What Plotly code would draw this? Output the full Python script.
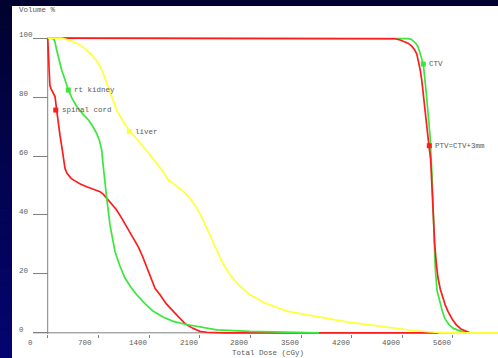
import plotly.graph_objects as go

# Dose-volume histogram: cumulative volume (%) vs total dose (cGy)
sc_dose = [0, 8, 18, 30, 45, 60, 80, 101, 124, 145, 170, 202, 239, 265, 290, 320, 354, 400, 450,
           539, 630, 723, 770, 815, 860, 906, 953, 1020, 1092, 1170, 1252, 1310, 1368, 1430,
           1483, 1552, 1640, 1736, 1820, 1897, 2000, 2104, 2200, 2312, 2450, 5400]
sc_vol = [100, 95, 89, 84, 82.9, 82.3, 81.3, 80.2, 75.6, 71.2, 67, 62, 55.8, 54.2, 53.3, 52.5,
          51.9, 51.1, 50.5, 49.6, 48.8, 47.9, 47.0, 45.7, 44.4, 43, 41.7, 39, 35.9, 32.8, 29.2,
          26, 22.4, 18.5, 15.1, 12.9, 9.8, 7.3, 5, 3.1, 1.6, 0.5, 0.2, 0.07, 0, 0]

rk_dose = [0, 60, 85, 101, 124, 160, 193, 240, 285, 340, 401, 480, 561, 620, 677, 715, 746,
           768, 792, 815, 860, 930, 1000, 1068, 1150, 1230, 1340, 1459, 1600, 1736, 1900, 2059,
           2335, 2795, 3200, 3486, 3750]
rk_vol = [100, 100, 99.6, 98.6, 96, 92.5, 89.2, 85.8, 82.4, 79.4, 76.8, 74.4, 72.3, 70.2, 67.7,
          65.2, 62.1, 56.4, 51.9, 45.8, 36.7, 27.6, 22.5, 18.6, 15.5, 12.9, 10, 7.3, 5.3, 3.9,
          2.9, 2.2, 1.0, 0.5, 0.3, 0.2, 0]

lv_dose = [0, 193, 300, 401, 500, 584, 660, 723, 770, 815, 884, 953, 1040, 1137, 1230, 1321,
           1410, 1506, 1590, 1666, 1770, 1874, 1970, 2059, 2130, 2197, 2265, 2335, 2420, 2519,
           2650, 2795, 2999, 3320, 3689, 4150, 4610, 5071, 5348, 5600, 6500]
lv_vol = [100, 100, 99.3, 98.3, 96.8, 94.9, 92.8, 90.4, 87.8, 84.7, 80.2, 75.6, 71.8, 68.3,
          65.8, 63.2, 60.5, 57.5, 54.8, 51.9, 50, 48, 45.5, 42.4, 39.2, 35.6, 31.5, 27.6, 23.5,
          19.7, 15.9, 12.9, 10.1, 7.3, 5.6, 3.6, 2.2, 0.7, 0.2, 0, 0]

ptv_dose = [0, 4702, 4800, 4868, 4930, 4979, 5030, 5071, 5100, 5121, 5145, 5168, 5190, 5214,
            5259, 5292, 5324, 5348, 5370, 5393, 5425, 5462, 5495, 5531, 5590, 5646, 5710, 5784,
            5835]
ptv_vol = [100, 100, 99.8, 99.4, 98.9, 98.3, 97.3, 96, 94.6, 92.6, 89.5, 85.9, 80.5, 74.5,
           65.5, 58.7, 41.2, 29.9, 23.5, 18.6, 14.8, 11.8, 9.3, 7.3, 4.6, 2.7, 1.3, 0.5, 0]

ctv_dose = [0, 4744, 4900, 4980, 5024, 5052, 5085, 5117, 5142, 5165, 5190, 5234, 5283, 5310,
            5330, 5355, 5379, 5400, 5421, 5450, 5486, 5540, 5605, 5660, 5715, 5780]
ctv_vol = [100, 100, 99.95, 99.85, 99.6, 99.1, 98.3, 97.1, 95.2, 93.0, 91.2, 80.7, 66.8, 53.6,
           38.3, 22, 14.5, 12.4, 10.8, 7.6, 5.0, 2.9, 1.5, 0.9, 0.5, 0]

# Structure labels placed on their curves
label_names = ["rt kidney", "spinal cord", "liver", "CTV", "PTV=CTV+3mm"]
label_dose = [285, 111, 1128, 5190, 5273]
label_vol = [82.4, 75.6, 68.3, 91.2, 63.5]

x_ticks = [0, 700, 1400, 2100, 2800, 3500, 4200, 4900, 5600, 6300]
y_ticks = [0, 20, 40, 60, 80, 100]

RED = "#ff1c1c"
GREEN = "#3ce63c"
YELLOW = "#ffff3a"
label_colors = [GREEN, RED, YELLOW, GREEN, RED]

AXIS = "#808080"
TEXT = "#5a5a5a"
FONT = dict(family="Liberation Mono", size=7.5, color=TEXT)

W, H = 498, 358
ML, MR, MT, MB = 33, 0, 37, 24
PW, PH = W - ML - MR, H - MT - MB


def px_x(p):
    return (p - ML) / PW


def px_y(p):
    return (H - MB - p) / PH


fig = go.Figure()
for d, v, c in [(ctv_dose, ctv_vol, GREEN), (ptv_dose, ptv_vol, RED),
                (sc_dose, sc_vol, RED), (rk_dose, rk_vol, GREEN),
                (lv_dose, lv_vol, YELLOW)]:
    fig.add_trace(go.Scatter(x=d, y=v, mode="lines",
                             line=dict(color=c, width=1.7),
                             hoverinfo="skip", showlegend=False))

fig.add_trace(go.Scatter(x=label_dose, y=label_vol, mode="markers",
                         marker=dict(symbol="square", size=5, color=label_colors),
                         showlegend=False, hoverinfo="skip"))

shapes = []
# dark blue backdrop with a vertical gradient
n = 24
top_rgb, bot_rgb = (2, 2, 48), (4, 4, 112)
for i in range(n):
    t = i / (n - 1)
    col = "rgb(%d,%d,%d)" % tuple(round(a + (b - a) * t) for a, b in zip(top_rgb, bot_rgb))
    shapes.append(dict(type="rect", xref="paper", yref="paper", layer="below",
                       x0=px_x(0), x1=px_x(W), y0=px_y(H * (i + 1) / n), y1=px_y(H * i / n),
                       line=dict(width=0), fillcolor=col))
# white chart panel
shapes.append(dict(type="rect", xref="paper", yref="paper", layer="below",
                   x0=px_x(12), x1=px_x(W + 2), y0=px_y(H + 2), y1=px_y(6),
                   line=dict(width=0), fillcolor="white"))
# axis lines
shapes.append(dict(type="line", xref="paper", yref="y", layer="below",
                   x0=0, x1=1, y0=0, y1=0, line=dict(color=AXIS, width=1)))
shapes.append(dict(type="line", xref="x", yref="y", layer="below",
                   x0=0, x1=0, y0=-1.8, y1=100, line=dict(color=AXIS, width=1)))

annotations = []
for v in y_ticks:
    annotations.append(dict(x=px_x(17), xref="paper", y=v, yref="y", text=str(v),
                            xanchor="left", yanchor="middle", yshift=3,
                            showarrow=False, font=FONT))
for v in x_ticks:
    annotations.append(dict(x=v, xref="x", y=px_y(343), yref="paper", text=str(v),
                            xanchor="left", yanchor="middle", xshift=-22,
                            showarrow=False, font=FONT))
for name, d, v in zip(label_names, label_dose, label_vol):
    annotations.append(dict(x=d, xref="x", y=v, yref="y", text=name,
                            xanchor="left", yanchor="middle", xshift=4,
                            showarrow=False, font=FONT))
annotations.append(dict(x=px_x(17), xref="paper", y=px_y(10), yref="paper", text="Volume %",
                        xanchor="left", yanchor="middle", showarrow=False, font=FONT))
annotations.append(dict(x=px_x(267.5), xref="paper", y=px_y(353), yref="paper",
                        text="Total Dose (cGy)", xanchor="center", yanchor="middle",
                        showarrow=False, font=FONT))

x0_dose = -(47.7 - ML) / 0.07237
x1_dose = (W - 47.7) / 0.07237

fig.update_layout(
    width=W, height=H,
    margin=dict(l=ML, r=MR, t=MT, b=MB, pad=0),
    paper_bgcolor="rgb(3,3,80)",
    plot_bgcolor="white",
    shapes=shapes,
    annotations=annotations,
    xaxis=dict(range=[x0_dose, x1_dose], showgrid=False, zeroline=False, showline=False,
               tickvals=x_ticks[:-1], ticks="outside", ticklen=3, tickcolor=AXIS,
               tickwidth=1, showticklabels=False, fixedrange=True),
    yaxis=dict(range=[-0.4, 100.4], showgrid=False, zeroline=False, showline=False,
               anchor="free", position=px_x(47.7), tickvals=y_ticks, ticks="outside",
               ticklen=15, tickcolor=AXIS, tickwidth=1, showticklabels=False,
               fixedrange=True),
)

fig.write_html("out.html")
